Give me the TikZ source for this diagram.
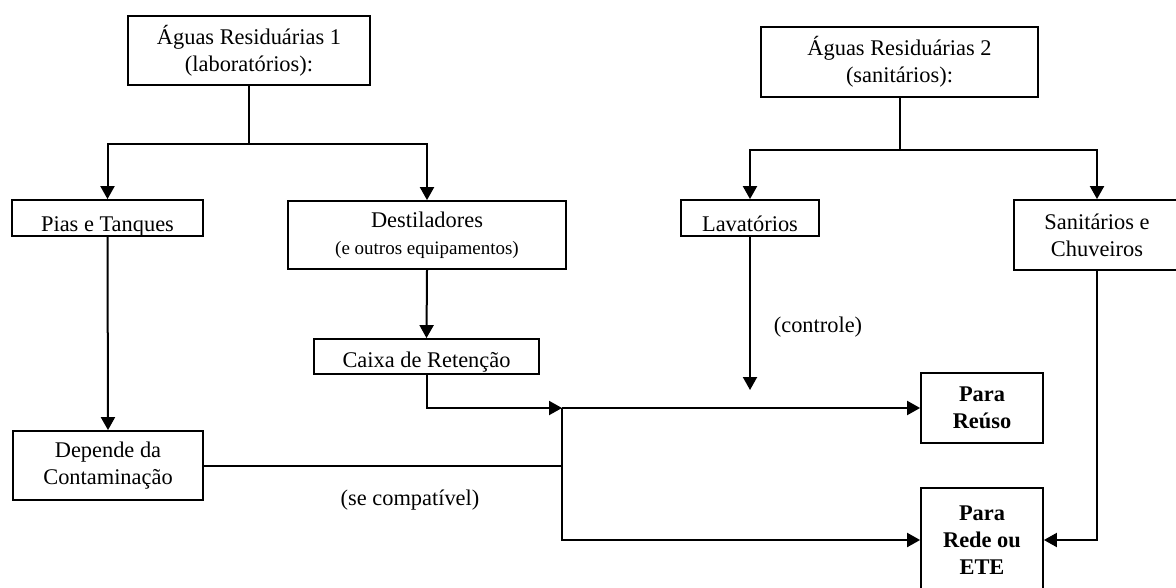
\documentclass[tikz,border=0pt]{standalone}
\usepackage{fontspec}
\setmainfont{Liberation Serif}
\usetikzlibrary{arrows.meta}

\begin{document}
\begin{tikzpicture}[
  x=0.5pt, y=-0.5pt,
  every node/.style={
    font=\fontsize{11.2}{13.5}\selectfont, align=center, inner sep=1pt,
  },
  bloco/.style={draw, line width=0.9pt},
  baixo/.style={text height=#1, text depth=0pt},
  negrito/.style={font=\fontsize{11.2}{13.5}\selectfont\bfseries},
  linha/.style={line width=1pt},
  seta/.style={linha, -{Triangle[length=6.5pt,width=7pt]}}
  ]
  \useasboundingbox (0,0) rectangle (1176,588);
  \clip (0,0) rectangle (1176,588);

  % fontes de agua
  \node[bloco, minimum width=121pt, minimum height=34.5pt] (ar1) at (249,50.5)
    {Águas Residuárias 1\\(laboratórios):};
  \node[bloco, minimum width=138.5pt, minimum height=35pt] (ar2) at (899.5,62)
    {Águas Residuárias 2\\(sanitários):};

  % pontos de uso
  \node[bloco, baixo=13pt, minimum width=95.5pt, minimum height=18pt] (pias) at (107.5,218) {Pias e Tanques};
  \node[bloco, minimum width=139pt, minimum height=34pt] (dest) at (427,235)
    {Destiladores\\{\fontsize{9.5}{12}\selectfont(e outros equipamentos)}};
  \node[bloco, baixo=13pt, minimum width=69pt, minimum height=18pt] (lav) at (750,218) {Lavatórios};
  \node[bloco, minimum width=83pt, minimum height=35pt] (sanit) at (1097,235)
    {Sanitários e\\Chuveiros};

  \node[bloco, baixo=11pt, minimum width=112.5pt, minimum height=17.5pt] (ret) at (426.5,356.5) {Caixa de Retenção};
  \node[bloco, minimum width=95pt, minimum height=34.5pt] (dep) at (108,465.5)
    {Depende da\\Contaminação};

  % destinos
  \node[bloco, negrito, minimum width=61pt, minimum height=35pt] (reuso) at (982,408) {Para\\Reúso};
  \node[bloco, negrito, minimum width=61pt, minimum height=52pt] (rede) at (982,540)
    {Para\\Rede ou\\ETE};

  \coordinate (j1) at (562,408);
  \coordinate (ctrl) at (750,390);

  \node (controle) at (818,327) {(controle)};
  \node (compat) at (410,500) {(se compatível)};

  % ramos
  \draw[linha] (ar1.south) -- ++(0,58) coordinate (b1);
  \draw[seta] (b1) -| (pias.north);
  \draw[seta] (b1) -| (dest.north);
  \draw[linha] (ar2.south) -- ++(0,52) coordinate (b2);
  \draw[seta] (b2) -| (lav.north);
  \draw[seta] (b2) -| (sanit.north);

  \draw[seta] (pias.south) -- (dep.north);
  \draw[seta] (dest.south) -- (ret.north);
  \draw[seta] (ret.south) |- (j1);
  \draw[seta] (j1) -- (reuso.west);
  \draw[linha] (dep.east) -- (dep.east -| j1);
  \draw[seta] (j1) |- (rede.west);
  \draw[seta] (lav.south) -- (ctrl);
  \draw[seta] (sanit.south) |- (rede.east);
\end{tikzpicture}
\end{document}
